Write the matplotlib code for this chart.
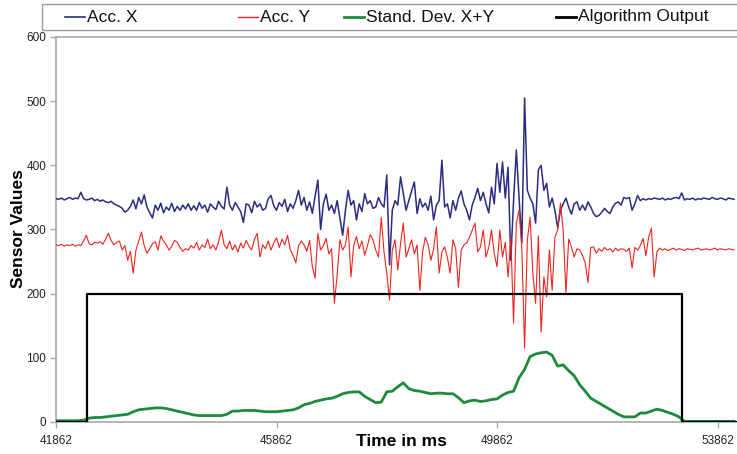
import numpy as np
import matplotlib

matplotlib.use("Agg")
import matplotlib.pyplot as plt
from matplotlib.lines import Line2D
from matplotlib.patches import Rectangle

# Sampling of the accelerometer trace (ms)
T0 = 41862
DT = 50
DT_STD = 100

acc_x = [
    348, 347, 349, 346, 348, 350, 347, 349, 348, 358,
    348, 346, 347, 349, 345, 347, 344, 346, 343, 342,
    344, 340, 338, 336, 333, 327, 330, 336, 346, 332,
    350, 340, 354, 335, 326, 318, 338, 330, 341, 326,
    335, 330, 341, 328, 336, 330, 338, 332, 340, 330,
    337, 330, 342, 333, 338, 327, 340, 335, 331, 344,
    336, 332, 366, 338, 330, 342, 335, 328, 311, 340,
    338, 326, 344, 335, 340, 330, 333, 348, 353, 337,
    330, 342, 336, 347, 328, 340, 333, 345, 361, 338,
    350, 330, 343, 325, 352, 377, 300, 340, 355, 330,
    338, 325, 345, 318, 291, 330, 361, 338, 345, 315,
    340, 328, 356, 340, 345, 333, 335, 350, 340, 335,
    385, 245, 330, 345, 338, 382, 356, 330, 345, 360,
    374, 325, 348, 335, 341, 330, 352, 315, 338, 345,
    408, 335, 340, 318, 345, 330, 349, 360, 340, 330,
    315, 338, 350, 364, 345, 358, 340, 326, 366, 340,
    403, 358, 405, 349, 397, 252, 345, 424, 349, 279,
    505, 361, 349, 340, 310, 393, 400, 361, 372, 335,
    349, 330, 303, 330, 340, 349, 335, 324, 340, 343,
    330, 338, 330, 343, 335, 325, 320, 322, 327, 333,
    328, 325, 335, 341, 343, 338, 350, 348, 350, 330,
    340, 353, 345, 348, 346, 348, 347, 349, 348, 347,
    349, 346, 348, 347, 349, 350, 348, 357, 346, 348,
    347, 349, 346, 348, 347, 349, 348, 347, 350, 348,
    347, 349, 348, 346, 349, 348, 347,
]

acc_y = [
    276, 275, 277, 274, 276, 275, 277, 274, 276, 275,
    282, 291, 278, 276, 280, 279, 281, 277, 285, 294,
    283, 276, 280, 282, 268, 275, 252, 266, 232, 268,
    282, 296, 275, 263, 270, 278, 281, 268, 290, 282,
    276, 268, 274, 283, 280, 272, 266, 270, 268, 275,
    271, 280, 268, 276, 272, 285, 270, 276, 268, 281,
    299, 276, 270, 282, 268, 276, 265, 279, 271, 283,
    274, 268, 285, 294, 257, 276, 270, 282, 268, 279,
    287, 272, 285, 276, 291, 268, 260, 248, 275, 282,
    276, 266, 283, 242, 224, 294, 268, 275, 286, 262,
    270, 185, 229, 284, 268, 276, 304, 226, 275, 289,
    270, 282, 260, 275, 292, 284, 268, 257, 319, 265,
    232, 190, 268, 284, 237, 278, 310, 257, 270, 284,
    262, 276, 205, 265, 288, 276, 252, 270, 304, 232,
    265, 273, 256, 232, 284, 270, 210, 268, 276, 279,
    288, 299, 310, 265, 273, 299, 257, 272, 299, 262,
    242, 299, 257, 280, 226, 288, 154, 310, 330, 270,
    115, 284, 319, 232, 185, 290, 140, 226, 195, 268,
    205, 288, 299, 341, 299, 201, 285, 273, 257, 270,
    268, 260, 248, 217, 272, 273, 263, 270, 266, 272,
    268, 270, 265, 271, 267, 270, 269, 266, 271, 240,
    272, 268, 275, 286, 259, 288, 302, 226, 265, 271,
    268, 270, 267, 269, 271, 268, 270, 269, 267, 270,
    269, 268, 270, 271, 268, 269, 270, 268, 269, 271,
    268, 270, 269, 268, 270, 269, 268,
]

std_xy = [
    2, 2, 2, 2, 2, 3, 6, 7, 7, 8,
    9, 10, 11, 12, 16, 19, 20, 21, 22, 22,
    21, 19, 17, 15, 13, 11, 10, 10, 10, 10,
    10, 12, 17, 17, 18, 18, 18, 17, 16, 16,
    16, 17, 18, 19, 22, 27, 29, 32, 34, 36,
    37, 40, 44, 46, 47, 47, 40, 35, 30, 31,
    47, 48, 55, 61, 52, 49, 48, 46, 44, 45,
    45, 44, 44, 38, 30, 33, 34, 32, 33, 35,
    36, 42, 46, 48, 69, 82, 102, 106, 108, 109,
    104, 87, 89, 80, 72, 58, 48, 37, 32, 27,
    22, 17, 12, 8, 8, 8, 14, 14, 17, 20,
    18, 15, 12, 8, 1, 1, 1, 1, 1, 1,
    1, 1, 1, 1,
]

# Algorithm output: step function (switch times in ms, level held until next switch)
algo_times = [41862, 42424, 53218, 54215]
algo_levels = [0, 200, 0, 0]

x_ticks = [41862, 45862, 49862, 53862]
y_ticks = [0, 100, 200, 300, 400, 500, 600]

C_X = "#2b2c83"
C_Y = "#f0231e"
C_STD = "#1e8a3c"
C_ALGO = "#000000"
SPINE = "#a8a8a8"

W, H = 737, 454
fig = plt.figure(figsize=(W / 100, H / 100), dpi=100)
ax = fig.add_axes([56 / W, 1 - 422 / H, (W - 56) / W, (422 - 37) / H])

t_acc = T0 + DT * np.arange(len(acc_x))
t_std = T0 + DT_STD * np.arange(len(std_xy))

ax.plot(t_acc, acc_x, color=C_X, lw=1.1, zorder=3)
ax.plot(t_acc, acc_y, color=C_Y, lw=0.8, zorder=4)
ax.plot(t_std, std_xy, color=C_STD, lw=2.0, zorder=5)
ax.step(algo_times, algo_levels, where="post", color=C_ALGO, lw=1.6, zorder=6)

ax.set_xlim(41862, 54215)
ax.set_ylim(0, 600)
ax.set_xticks(x_ticks)
ax.set_yticks(y_ticks)

tick_font = ["Liberation Sans Narrow", "Liberation Sans"]
ax.tick_params(axis="both", colors=SPINE, length=4, width=1.0, labelcolor="#222222")
ax.tick_params(axis="x", pad=5)
ax.tick_params(axis="y", pad=3)
for lab in ax.get_xticklabels() + ax.get_yticklabels():
    lab.set_family(tick_font)
    lab.set_fontsize(8.5)

for side in ["left", "bottom", "top"]:
    ax.spines[side].set_color(SPINE)
    ax.spines[side].set_linewidth(1.2)
ax.spines["right"].set_visible(False)

fig.text(19 / W, 1 - 229 / H, "Sensor Values", rotation=90, ha="center", va="center",
         fontsize=12.5, fontweight="bold", family="Liberation Sans")
fig.text(401 / W, 1 - 441 / H, "Time in ms", ha="center", va="center",
         fontsize=12.5, fontweight="bold", family="Liberation Sans")

# Legend box across the top
fig.add_artist(Rectangle((42 / W, 1 - 30 / H), (W - 42 + 5) / W, 26 / H,
                         transform=fig.transFigure, facecolor="white",
                         edgecolor="#9a9a9a", lw=1.0))
legend_items = [
    ("Acc. X", C_X, 1.2, 65),
    ("Acc. Y", C_Y, 1.0, 238),
    ("Stand. Dev. X+Y", C_STD, 2.0, 344),
    ("Algorithm Output", C_ALGO, 2.0, 556),
]
ly = 1 - 17 / H
for label, color, lw, x0 in legend_items:
    fig.add_artist(Line2D([x0 / W, (x0 + 20) / W], [ly, ly], transform=fig.transFigure,
                          color=color, lw=lw))
    fig.text((x0 + 22) / W, ly, label, ha="left", va="center", fontsize=12.5,
             family="Liberation Sans", color="#111111")

fig.savefig("out.png", dpi=100)
